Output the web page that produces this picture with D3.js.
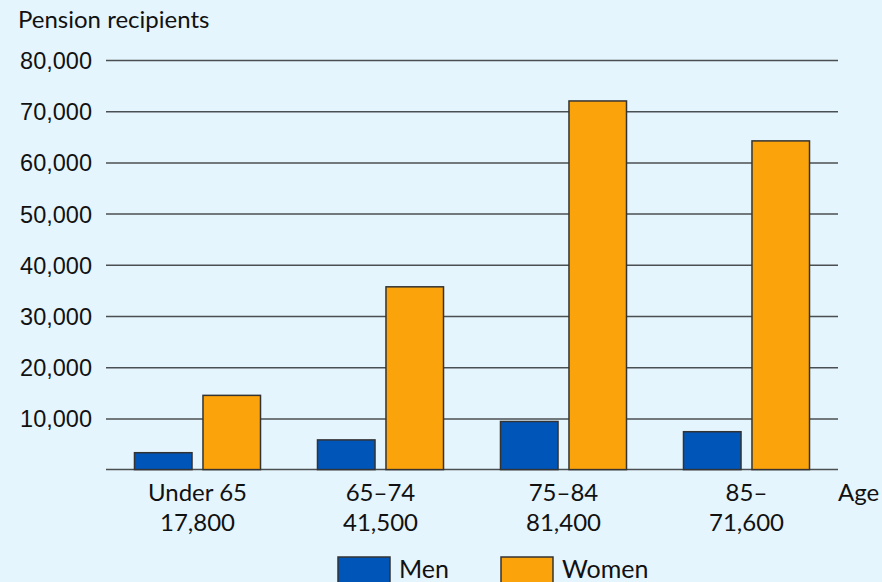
<!DOCTYPE html>
<html>
<head>
<meta charset="utf-8">
<script src="https://cdn.jsdelivr.net/npm/d3@7"></script>
<style>
  html, body { margin: 0; padding: 0; background: #e5f5fd; }
  svg { display: block; font-family: Lato, "Open Sans", sans-serif; }
</style>
</head>
<body>
<svg id="chart" width="882" height="582"></svg>
<script>
// Pension recipients by age group and sex
const ageGroups = ["Under 65", "65\u201374", "75\u201384", "85\u2013"];
const groupTotals = ["17,800", "41,500", "81,400", "71,600"];
const series = ["Men", "Women"];
const menValues = [3300, 5800, 9400, 7400];
const womenValues = [14500, 35700, 72000, 64200];
const yTicks = [10000, 20000, 30000, 40000, 50000, 60000, 70000, 80000];

const colors = { Men: "#0055b8", Women: "#faa30a" };

const svg = d3.select("#chart");
const W = 882, H = 582;
svg.append("rect").attr("width", W).attr("height", H).attr("fill", "#e5f5fd");

const x0 = d3.scaleBand().domain(ageGroups).range([106, 838]).padding(0);
const x1 = d3.scaleBand().domain(series).range([0, x0.bandwidth()])
  .paddingInner(0.16).paddingOuter(0.416);
const y = d3.scaleLinear().domain([0, 80000]).range([469.6, 60]);

// Horizontal gridlines with labels
const yAxis = d3.axisLeft(y).tickValues(yTicks)
  .tickSize(-(838 - 106)).tickPadding(14)
  .tickFormat(d3.format(","));
const gy = svg.append("g").attr("transform", "translate(106,0)").call(yAxis);
gy.select(".domain").remove();
gy.selectAll(".tick line").attr("stroke", "#4a4f52").attr("stroke-width", 1.5);
gy.selectAll(".tick text").attr("fill", "#111").attr("font-size", 23.5)
  .attr("dy", "0.36em");

// Baseline
svg.append("line").attr("x1", 106).attr("x2", 838)
  .attr("y1", y(0)).attr("y2", y(0))
  .attr("stroke", "#4a4f52").attr("stroke-width", 1.5);

// Bars
const rows = ageGroups.map((g, i) => ({
  group: g,
  values: [{ key: "Men", v: menValues[i] }, { key: "Women", v: womenValues[i] }]
}));
const groups = svg.append("g").selectAll("g").data(rows).join("g")
  .attr("transform", d => `translate(${x0(d.group)},0)`);
groups.selectAll("rect").data(d => d.values).join("rect")
  .attr("x", d => x1(d.key))
  .attr("y", d => y(d.v))
  .attr("width", x1.bandwidth())
  .attr("height", d => y(0) - y(d.v))
  .attr("fill", d => colors[d.key])
  .attr("stroke", "#333")
  .attr("stroke-width", 1.5);

// Category labels and totals
const xl = svg.append("g");
ageGroups.forEach((g, i) => {
  const cx = x0(g) + x0.bandwidth() / 2;
  xl.append("text").attr("x", cx).attr("y", 501).attr("text-anchor", "middle")
    .attr("font-size", 24).attr("fill", "#111").text(g);
  xl.append("text").attr("x", cx).attr("y", 531).attr("text-anchor", "middle")
    .attr("font-size", 24).attr("fill", "#111").text(groupTotals[i]);
});
xl.append("text").attr("x", 838).attr("y", 501).attr("font-size", 24)
  .attr("fill", "#111").text("Age");

// Axis title
svg.append("text").attr("x", 18).attr("y", 28).attr("font-size", 24)
  .attr("fill", "#111").text("Pension recipients");

// Legend
const legendPos = [338, 501];
const lg = svg.append("g").selectAll("g").data(series).join("g")
  .attr("transform", (d, i) => `translate(${legendPos[i]},557)`);
lg.append("rect").attr("width", 52).attr("height", 30)
  .attr("fill", d => colors[d]).attr("stroke", "#333").attr("stroke-width", 1.5);
lg.append("text").attr("x", d => d === "Men" ? 61 : 61).attr("y", 21)
  .attr("font-size", 25).attr("fill", "#111").text(d => d);
</script>
</body>
</html>
